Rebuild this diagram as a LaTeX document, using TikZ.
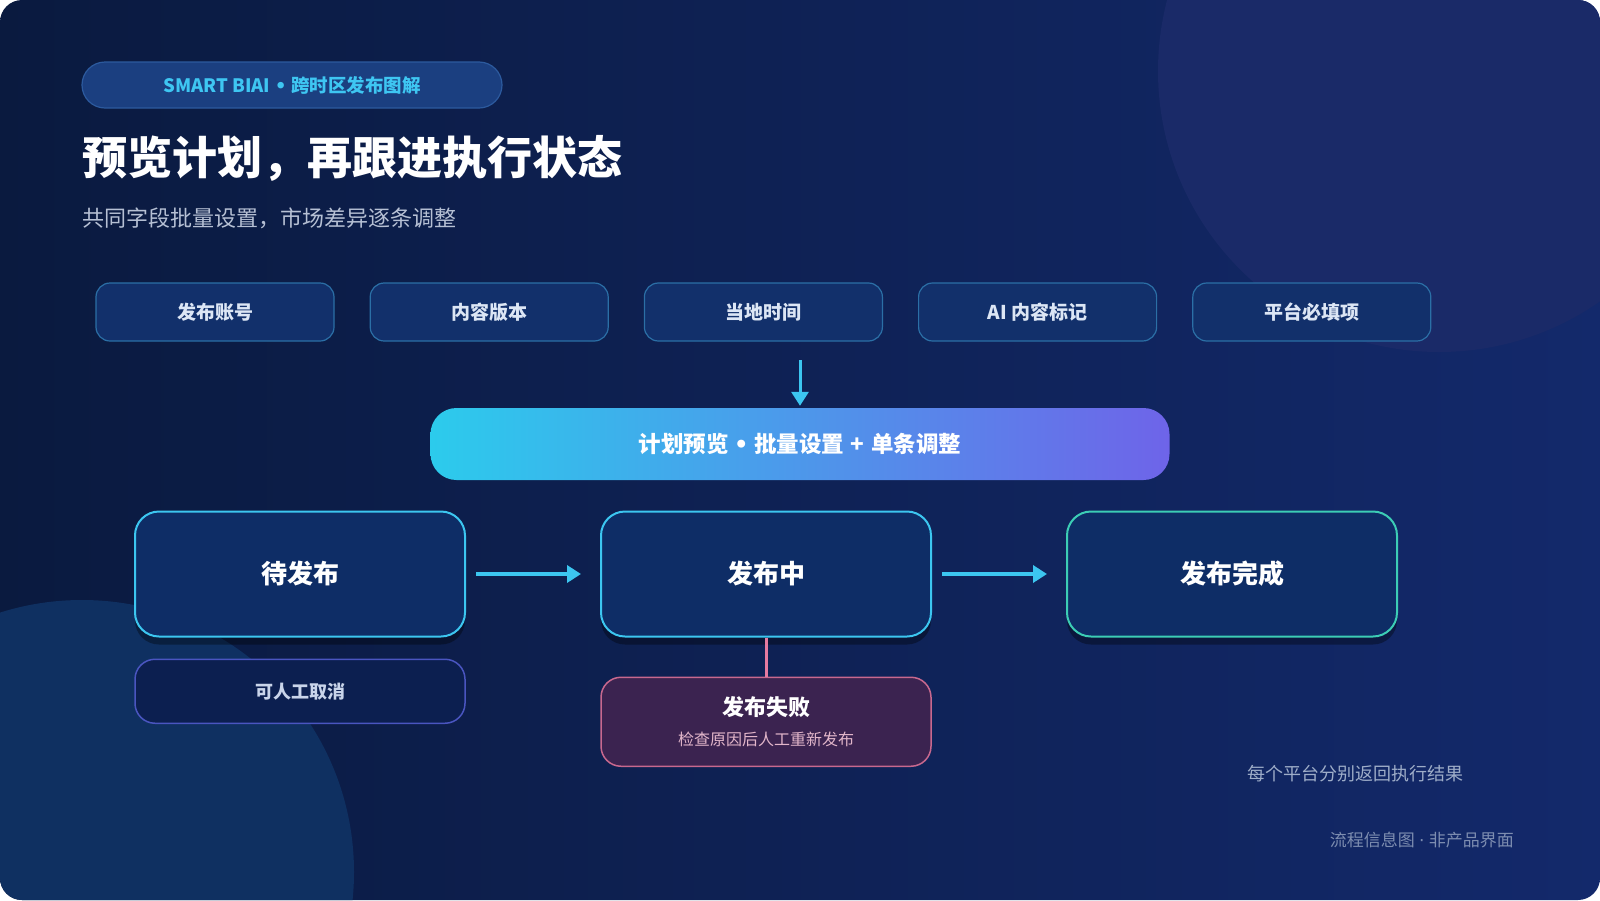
\documentclass[tikz,border=0pt]{standalone}
\usepackage{fontspec}
\setmainfont{Noto Sans CJK SC}
\newfontfamily\latinfont{DejaVu Sans}
\usepackage{xcolor}
\usetikzlibrary{arrows.meta, positioning, shadows}

\definecolor{bgdark}{HTML}{0A1A3F}
\definecolor{bglight}{HTML}{13296B}
\definecolor{blobtr}{HTML}{1A2A68}
\definecolor{blobbl}{HTML}{0F3061}
\definecolor{tagfill}{HTML}{1B3F80}
\definecolor{tagline}{HTML}{2C5A9E}
\definecolor{tagtext}{HTML}{3EC6F2}
\definecolor{subgray}{HTML}{B6C0D4}
\definecolor{fieldfill}{HTML}{12306B}
\definecolor{fieldline}{HTML}{2B6FA6}
\definecolor{fieldtext}{HTML}{DCE6F5}
\definecolor{flowcyan}{HTML}{3CC6F0}
\definecolor{barleft}{HTML}{2CCBEC}
\definecolor{barright}{HTML}{6E64E9}
\definecolor{statefill}{HTML}{0E2D66}
\definecolor{doneline}{HTML}{3CCDB5}
\definecolor{cancelfill}{HTML}{0C1F50}
\definecolor{cancelline}{HTML}{4A55C0}
\definecolor{canceltext}{HTML}{C9D4EA}
\definecolor{failfill}{HTML}{3B2350}
\definecolor{failline}{HTML}{C8688E}
\definecolor{faillink}{HTML}{E57AA0}
\definecolor{failtext}{HTML}{E2B6CA}
\definecolor{notetext}{HTML}{9EADC8}
\definecolor{foottext}{HTML}{7D8DB0}

\newcommand{\bigdot}{\hspace{0.25em}{\latinfont•}\hspace{0.25em}}
\newcommand{\smalldot}{\hspace{0.25em}{\latinfont·}\hspace{0.25em}}
\newcommand{\plussep}{\hspace{0.3em}+\hspace{0.3em}}

\begin{document}
\begin{tikzpicture}[x=1pt, y=-1pt,
  fieldbox/.style={draw=fieldline, line width=1.2pt, fill=fieldfill,
    rounded corners=14pt, minimum width=238pt, minimum height=58pt,
    text=fieldtext, font=\fontsize{19}{22}\selectfont\bfseries},
  statebox/.style={draw=flowcyan, line width=2pt, fill=statefill,
    rounded corners=24pt, minimum width=330pt, minimum height=125pt,
    text=white, font=\fontsize{26}{30}\selectfont\bfseries,
    drop shadow={shadow xshift=0pt, shadow yshift=-8pt, opacity=0.35, fill=black}},
  flowarrow/.style={draw=flowcyan, line width=4pt,
    -{Triangle[length=14pt, width=17pt]}}
]
  \useasboundingbox (0,0) rectangle (1600,900);

  %--- background panel ---
  \shade[left color=bgdark, right color=bglight, rounded corners=22pt]
    (0,0) rectangle (1600,900);
  \begin{scope}
    \clip[rounded corners=22pt] (0,0) rectangle (1600,900);
    \fill[blobtr] (1439,71) circle (281);
    \fill[blobbl] (82,872) circle (272);
  \end{scope}

  %--- header ---
  \node[draw=tagline, line width=1.2pt, fill=tagfill, rounded corners=23pt,
    minimum width=420pt, minimum height=46pt, text=tagtext,
    font=\fontsize{18.5}{22}\selectfont\bfseries] (tag) at (292,85)
    {SMART BIAI\bigdot 跨时区发布图解};
  \node[anchor=west, text=white, font=\fontsize{45}{54}\selectfont\bfseries,
    inner sep=0pt] (title) at (82,158) {预览计划，再跟进执行状态};
  \node[anchor=west, text=subgray, font=\fontsize{22}{26}\selectfont,
    inner sep=0pt] (subtitle) at (82,218) {共同字段批量设置，市场差异逐条调整};

  %--- shared fields ---
  \node[fieldbox] (account) at (215,312) {发布账号};
  \node[fieldbox, right=35pt of account] (version) {内容版本};
  \node[fieldbox, right=35pt of version] (localtime) {当地时间};
  \node[fieldbox, right=35pt of localtime] (ailabel) {AI 内容标记};
  \node[fieldbox, right=35pt of ailabel] (required) {平台必填项};

  %--- plan bar ---
  \node[rounded corners=26pt, left color=barleft, right color=barright,
    minimum width=739pt, minimum height=72pt, text=white,
    font=\fontsize{22.5}{26}\selectfont\bfseries] (plan) at (800,444)
    {计划预览\bigdot 批量设置\plussep 单条调整};
  \coordinate (feed) at (800,360);
  \draw[draw=flowcyan, line width=3pt,
    -{Triangle[length=14pt, width=17pt]}, shorten >=2pt] (feed) -- (plan.north);

  %--- states ---
  \node[statebox] (pending) at (300,574) {待发布};
  \node[statebox, right=134pt of pending] (running) {发布中};
  \node[statebox, draw=doneline, right=134pt of running] (done) {发布完成};
  \draw[flowarrow, shorten <=10pt, shorten >=19pt] (pending) -- (running);
  \draw[flowarrow, shorten <=10pt, shorten >=19pt] (running) -- (done);

  \node[draw=cancelline, line width=1.5pt, fill=cancelfill, rounded corners=20pt,
    minimum width=330pt, minimum height=64pt, text=canceltext,
    font=\fontsize{18}{22}\selectfont\bfseries, below=21pt of pending]
    (cancel) {可人工取消};

  \node[draw=failline, line width=1.5pt, fill=failfill, rounded corners=20pt,
    minimum width=330pt, minimum height=89pt, align=center,
    below=39pt of running] (failed)
    {{\fontsize{22}{26}\selectfont\bfseries\color{white} 发布失败}\\[13pt]
     {\fontsize{16}{19}\selectfont\color{failtext} 检查原因后人工重新发布}};
  \draw[draw=faillink, line width=3pt] (running) -- (failed);

  %--- notes ---
  \node[anchor=east, text=notetext, font=\fontsize{18}{22}\selectfont,
    inner sep=0pt] (note) at (1464,774) {每个平台分别返回执行结果};
  \node[anchor=east, text=foottext, font=\fontsize{17}{20}\selectfont,
    inner sep=0pt] (footer) at (1514,840) {流程信息图\smalldot 非产品界面};
\end{tikzpicture}
\end{document}
